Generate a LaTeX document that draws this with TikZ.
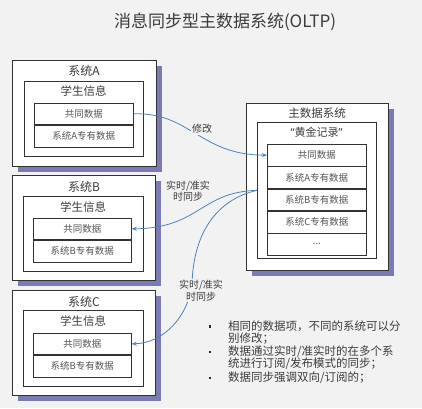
\documentclass[tikz,border=0pt]{standalone}
\usepackage{fontspec}
\setmainfont{Noto Sans CJK SC}
\newfontfamily\latf{Noto Sans}
\usetikzlibrary{arrows.meta,shadows}
\definecolor{bgc}{RGB}{242,242,242}
\definecolor{shc}{RGB}{122,122,180}
\definecolor{arc}{RGB}{79,129,189}
\definecolor{txc}{RGB}{60,60,60}
\definecolor{rwc}{RGB}{85,85,85}
\definecolor{bdc}{RGB}{50,50,50}
\begin{document}
\begin{tikzpicture}[x=1pt,y=-1pt,
  outerbox/.style={draw=bdc, fill=white, line width=0.7pt, anchor=north west, inner sep=0pt,
    drop shadow={shadow xshift=6pt, shadow yshift=-6pt, fill=shc, opacity=1}},
  innerbox/.style={draw=bdc, fill=white, line width=0.7pt, anchor=north west, inner sep=0pt},
  rowbox/.style={draw=bdc, fill=white, line width=0.7pt, anchor=north west, inner sep=0pt,
    text=rwc, font=\fontsize{9.5pt}{11pt}\selectfont},
  systitle/.style={text=txc, inner sep=0pt, font=\fontsize{12pt}{14pt}\selectfont},
  subtitle/.style={text=txc, inner sep=0pt, font=\fontsize{11.5pt}{14pt}\selectfont},
  conn/.style={draw=arc, line width=0.8pt, -{Stealth[length=5pt,width=4pt]}},
  clabel/.style={fill=bgc, text=txc, inner sep=1pt, align=center,
    font=\fontsize{10pt}{11.5pt}\selectfont},
  bulline/.style={text=txc, inner sep=0pt, anchor=west, font=\fontsize{11.5pt}{13pt}\selectfont},
  bulmark/.style={fill=black!85, inner sep=0pt, minimum size=2.4pt, rectangle}
]
\fill[bgc] (0,0) rectangle (422,408);
\useasboundingbox (0,0) rectangle (422,408);

\node[text=txc, inner sep=0pt, font=\fontsize{17pt}{20pt}\selectfont] (title) at (225,22) {消息同步型主数据系统(OLTP)};

% System A
\node[outerbox, minimum width=144pt, minimum height=106pt] (sa) at (12,60) {};
\node[systitle] (sat) at (84,71) {系统A};
\node[innerbox, minimum width=119pt, minimum height=75pt] (sai) at (24,81) {};
\node[subtitle] (sait) at (83.5,91.5) {学生信息};
\node[rowbox, minimum width=99pt, minimum height=21pt] (a1) at (34,103) {共同数据};
\node[rowbox, minimum width=99pt, minimum height=22pt] (a2) at (a1.south west) {系统A专有数据};

% System B
\node[outerbox, minimum width=143pt, minimum height=105pt] (sb) at (12,175) {};
\node[systitle] (sbt) at (84,187) {系统B};
\node[innerbox, minimum width=120pt, minimum height=75pt] (sbi) at (23,196) {};
\node[subtitle] (sbit) at (83,207) {学生信息};
\node[rowbox, minimum width=98pt, minimum height=21pt] (b1) at (33,218) {共同数据};
\node[rowbox, minimum width=98pt, minimum height=22pt] (b2) at (b1.south west) {系统B专有数据};

% System C
\node[outerbox, minimum width=143pt, minimum height=105pt] (sc) at (12,290) {};
\node[systitle] (sct) at (84,302) {系统C};
\node[innerbox, minimum width=120pt, minimum height=76pt] (sci) at (23,310) {};
\node[subtitle] (scit) at (83,321) {学生信息};
\node[rowbox, minimum width=98pt, minimum height=21pt] (c1) at (33,333) {共同数据};
\node[rowbox, minimum width=98pt, minimum height=22pt] (c2) at (c1.south west) {系统B专有数据};

% Master data system
\node[outerbox, minimum width=142pt, minimum height=167pt] (ms) at (246,103) {};
\node[systitle, font=\fontsize{11.5pt}{14pt}\selectfont] (mst) at (317,113.5) {主数据系统};
\node[innerbox, minimum width=119pt, minimum height=136pt] (mi) at (257,122) {};
\node[subtitle, font=\fontsize{11pt}{14pt}\selectfont] (mit) at (316.5,132.5) {{\latf “}黄金记录{\latf ”}};
\node[rowbox, minimum width=99pt, minimum height=21.6pt] (m1) at (267,144) {共同数据};
\node[rowbox, minimum width=99pt, minimum height=21.6pt] (m2) at (m1.south west) {系统A专有数据};
\node[rowbox, minimum width=99pt, minimum height=21.6pt] (m3) at (m2.south west) {系统B专有数据};
\node[rowbox, minimum width=99pt, minimum height=21.6pt] (m4) at (m3.south west) {系统C专有数据};
\node[rowbox, minimum width=99pt, minimum height=21.6pt] (m5) at (m4.south west) {...};

% Connectors
\draw[conn] (a1.east) .. controls (190,112) and (200,155) .. (m1.west);
\draw[conn] (mi.west) .. controls (200,192) and (200,228) .. (b1.east);
\draw[conn] (mi.west) .. controls (215,200) and (193,235) .. (192,285)
  .. controls (188,315) and (165,343) .. (c1.east);

\node[clabel] (l1) at (202,129) {修改};
\node[clabel, fill=none] (l2) at (188,191) {实时/准实\\时同步};
\node[clabel] (l3) at (201,290.5) {实时/准实\\时同步};

% Bullet list
\node[bulmark] (d1) at (210,326.5) {};
\node[bulline] (t1) at (228,326) {相同的数据项，不同的系统可以分};
\node[bulline] (t2) at (228,338.5) {别修改；};
\node[bulmark] (d2) at (210,352) {};
\node[bulline] (t3) at (228,351.5) {数据通过实时/准实时的在多个系};
\node[bulline] (t4) at (228,364) {统进行订阅/发布模式的同步；};
\node[bulmark] (d3) at (210,378) {};
\node[bulline] (t5) at (228,377.5) {数据同步强调双向/订阅的；};
\end{tikzpicture}
\end{document}
